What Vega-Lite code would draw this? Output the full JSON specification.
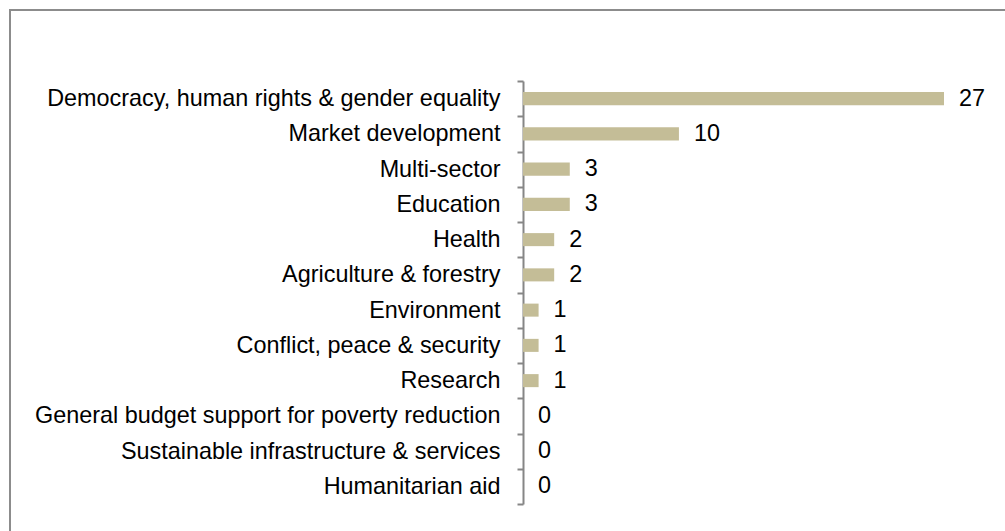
{
  "$schema": "https://vega.github.io/schema/vega-lite/v6.json",
  "autosize": {"type": "none"},
  "padding": {"left": 10, "top": 10, "right": 0, "bottom": 0},
  "width": 1100,
  "height": 600,
  "background": "white",
  "config": {
    "view": {"stroke": "#8c8c8c", "strokeWidth": 2, "fill": null},
    "font": "Liberation Sans"
  },
  "data": {
    "values": [
      {"sector": "Democracy, human rights & gender equality", "value": 27},
      {"sector": "Market development", "value": 10},
      {"sector": "Multi-sector ", "value": 3},
      {"sector": "Education", "value": 3},
      {"sector": "Health ", "value": 2},
      {"sector": "Agriculture & forestry", "value": 2},
      {"sector": "Environment", "value": 1},
      {"sector": "Conflict, peace & security", "value": 1},
      {"sector": "Research", "value": 1},
      {"sector": "General budget support for poverty reduction", "value": 0},
      {"sector": "Sustainable infrastructure & services", "value": 0},
      {"sector": "Humanitarian aid", "value": 0}
    ]
  },
  "encoding": {
    "y": {
      "field": "sector",
      "type": "nominal",
      "sort": null,
      "scale": {"range": [71, 494], "paddingInner": 0, "paddingOuter": 0},
      "axis": {
        "title": null,
        "offset": -513,
        "domainColor": "#868686",
        "domainWidth": 2,
        "tickColor": "#868686",
        "tickWidth": 2,
        "tickSize": 6,
        "tickBand": "extent",
        "labelFontSize": 23.4,
        "labelColor": "#000000",
        "labelPadding": 17,
        "labelLimit": 600,
        "labelFont": "Liberation Sans"
      }
    },
    "x": {
      "field": "value",
      "type": "quantitative",
      "scale": {"domain": [0, 27], "range": [513, 934], "nice": false, "zero": true},
      "axis": null
    }
  },
  "layer": [
    {"mark": {"type": "bar", "color": "#C4BD97", "height": {"band": 0.37}}},
    {
      "mark": {"type": "text", "align": "left", "baseline": "middle", "dx": 15, "fontSize": 23.4, "color": "#000000", "font": "Liberation Sans"},
      "encoding": {"text": {"field": "value", "type": "quantitative"}}
    }
  ]
}
